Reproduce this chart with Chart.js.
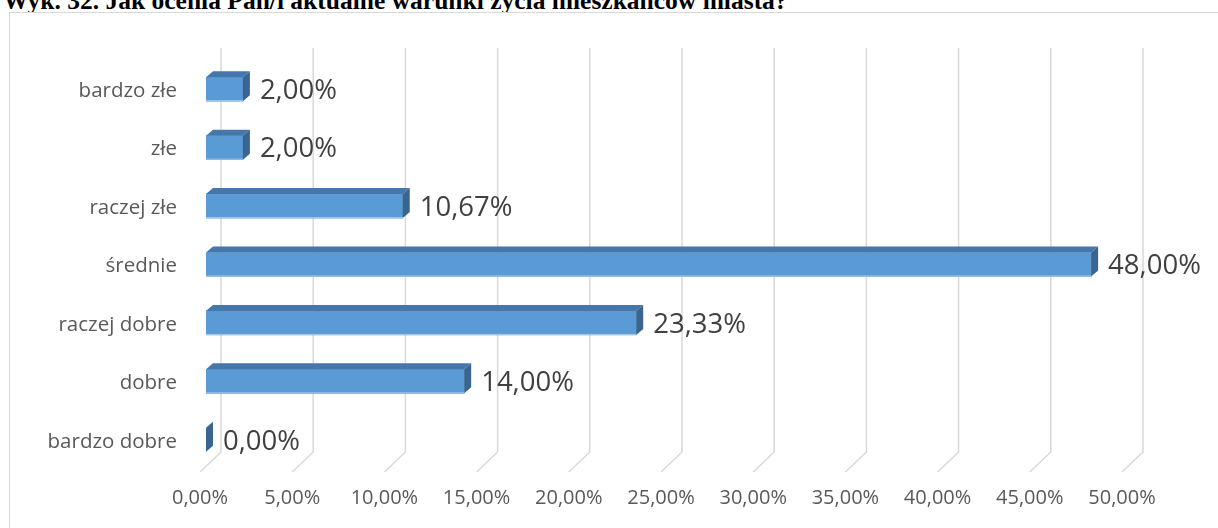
<!DOCTYPE html>
<html>
<head>
<meta charset="utf-8">
<script src="https://cdn.jsdelivr.net/npm/chart.js@4"></script>
<style>
  html,body{ margin:0; padding:0; background:#fff; overflow:hidden; }
  #wrap{ position:relative; width:1218px; height:528px; }
  #title{ position:absolute; left:3px; top:-12px; font:bold 25.5px/26px "Liberation Serif", "Times New Roman", serif; color:#000; white-space:nowrap; }
  #frame{ position:absolute; left:9px; top:12px; width:1240px; height:540px; border:1px solid #d9d9d9; box-sizing:border-box; background:#fff; }
  #chart{ position:absolute; left:0; top:0; }
</style>
</head>
<body>
<div id="wrap">
  <div id="title">Wyk. 32. Jak ocenia Pan/i aktualne warunki życia mieszkańców miasta?</div>
  <div id="frame"></div>
  <canvas id="chart" width="1218" height="528"></canvas>
</div>
<script>
(function(){
  // --- dane ---
  const categories = ['bardzo złe','złe','raczej złe','średnie','raczej dobre','dobre','bardzo dobre'];
  const values = [2.00, 2.00, 10.67, 48.00, 23.33, 14.00, 0.00];
  const axisMax = 50;
  const axisStep = 5;

  const pct = v => v.toFixed(2).replace('.', ',') + '%';

  const DX = 7, DY = -6; // glebokosc slupka 3D

  // siatka "3D": tylna sciana + podloga
  const grid3d = {
    id: 'grid3d',
    beforeDatasetsDraw(chart){
      const { ctx, chartArea, scales } = chart;
      const xs = scales.x;
      ctx.save();
      ctx.strokeStyle = '#d9d9d9';
      ctx.lineWidth = 1.5;
      xs.ticks.forEach(t=>{
        const px = xs.getPixelForValue(t.value);
        ctx.beginPath();
        ctx.moveTo(px + 15, chartArea.top - 12);
        ctx.lineTo(px + 15, chartArea.bottom - 17);
        ctx.lineTo(px - 6, chartArea.bottom + 3);
        ctx.stroke();
      });
      ctx.restore();
    }
  };

  // sciany boczne slupkow + etykiety
  const bars3d = {
    id: 'bars3d',
    afterDatasetsDraw(chart){
      const { ctx } = chart;
      const meta = chart.getDatasetMeta(0);
      ctx.save();
      meta.data.forEach((bar, i)=>{
        const left = bar.base, right = bar.x;
        const top = bar.y - bar.height/2, bottom = bar.y + bar.height/2;
        // gora
        ctx.fillStyle = '#4677ab';
        ctx.beginPath();
        ctx.moveTo(left, top); ctx.lineTo(right, top);
        ctx.lineTo(right + DX, top + DY); ctx.lineTo(left + DX, top + DY);
        ctx.closePath(); ctx.fill();
        // bok
        ctx.fillStyle = '#3a6591';
        ctx.beginPath();
        ctx.moveTo(right, top); ctx.lineTo(right + DX, top + DY);
        ctx.lineTo(right + DX, bottom + DY); ctx.lineTo(right, bottom);
        ctx.closePath(); ctx.fill();
        // dolna krawedz
        if(right > left){
          ctx.strokeStyle = '#a9c8e8'; ctx.lineWidth = 1;
          ctx.beginPath(); ctx.moveTo(left, bottom - 0.5); ctx.lineTo(right, bottom - 0.5); ctx.stroke();
        }
        // etykieta
        ctx.fillStyle = '#404040';
        ctx.font = '27.5px "Open Sans", sans-serif';
        ctx.textAlign = 'left';
        ctx.textBaseline = 'middle';
        ctx.fillText(pct(values[i]), right + DX + 10, bar.y + 2);
      });
      ctx.restore();
    }
  };

  new Chart(document.getElementById('chart'), {
    type: 'bar',
    data: {
      labels: categories,
      datasets: [{
        data: values,
        backgroundColor: '#5b9bd5',
        borderWidth: 0,
        barThickness: 24
      }]
    },
    options: {
      indexAxis: 'y',
      responsive: false,
      animation: false,
      layout: { padding: { top: 60, right: 90, left: 0, bottom: 0 } },
      plugins: { legend: { display: false }, tooltip: { enabled: false } },
      scales: {
        x: {
          min: 0, max: axisMax,
          grid: { display: false, drawTicks: false },
          border: { display: false },
          ticks: {
            stepSize: axisStep,
            callback: v => pct(v),
            color: '#595959',
            font: { family: '"Open Sans", sans-serif', size: 20 },
            padding: 17,
            labelOffset: -6,
            maxRotation: 0,
            autoSkip: false
          },
          afterFit(scale){ scale.height = 59; }
        },
        y: {
          grid: { display: false, drawTicks: false },
          border: { display: false },
          ticks: {
            color: '#595959',
            font: { family: '"Open Sans", sans-serif', size: 20.5 },
            padding: 29,
            labelOffset: 2
          },
          afterFit(scale){ scale.width = 206; }
        }
      }
    },
    plugins: [grid3d, bars3d]
  });
})();
</script>
</body>
</html>
